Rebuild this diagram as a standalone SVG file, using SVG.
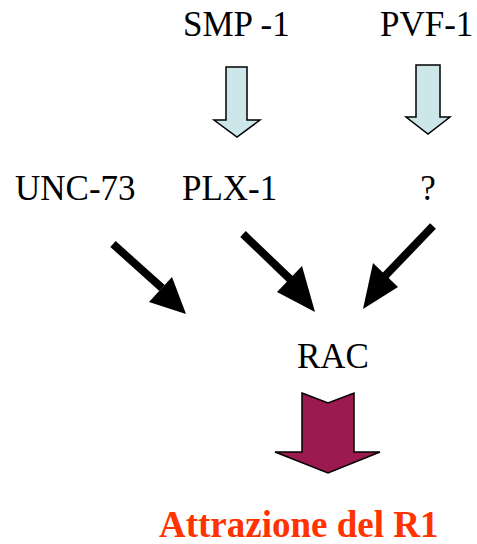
<svg xmlns="http://www.w3.org/2000/svg" width="477" height="544" viewBox="0 0 477 544">
  <style>
    .lbl { font-family: "Liberation Serif", "Times New Roman", serif; font-size: 35px; fill: #000; }
    .title { font-family: "Liberation Serif", "Times New Roman", serif; font-size: 37px; font-weight: bold; fill: #FF3300; }
    .blue { fill: #CDE6E9; stroke: #000; stroke-width: 1.5; stroke-linejoin: miter; }
    .purple { fill: #9B1A4F; stroke: #000; stroke-width: 1.5; }
    .black { fill: #000; }
  </style>
  <rect width="477" height="544" fill="#fff"/>

  <g id="smp1"><text class="lbl" x="183" y="36">SMP -1</text></g>
  <g id="pvf1"><text class="lbl" x="380" y="36">PVF-1</text></g>
  <g id="unc73"><text class="lbl" x="15" y="200">UNC-73</text></g>
  <g id="plx1"><text class="lbl" x="182" y="200">PLX-1</text></g>
  <g id="unknown"><text class="lbl" x="428" y="200" text-anchor="middle">?</text></g>
  <g id="rac"><text class="lbl" x="297" y="368">RAC</text></g>
  <g id="attrazione"><text class="title" x="159" y="537">Attrazione del R1</text></g>

  <g id="connectors">
    <!-- block arrows from the ligands to the receptors -->
    <polygon class="blue" points="226,67 247,67 247,120 260,120 237,137 214,120 226,120"/>
    <polygon class="blue" points="416,65 440,65 440,117 450,117 428,134 406,117 416,117"/>

    <!-- black arrows into RAC -->
    <g class="black">
      <line x1="113" y1="244" x2="162" y2="288" stroke="#000" stroke-width="8"/>
      <polygon points="186,314 149,302 172,277"/>
      <line x1="243" y1="234" x2="291" y2="280" stroke="#000" stroke-width="8"/>
      <polygon points="315,312 277,292 302,266"/>
      <line x1="433" y1="226" x2="385" y2="276" stroke="#000" stroke-width="8"/>
      <polygon points="363,309 373,263 398,287"/>
    </g>

    <!-- output arrow from RAC -->
    <polygon class="purple" points="302,393 328,403 354,393 354,452 380,452 328,473 275,452 302,452"/>
  </g>
</svg>
